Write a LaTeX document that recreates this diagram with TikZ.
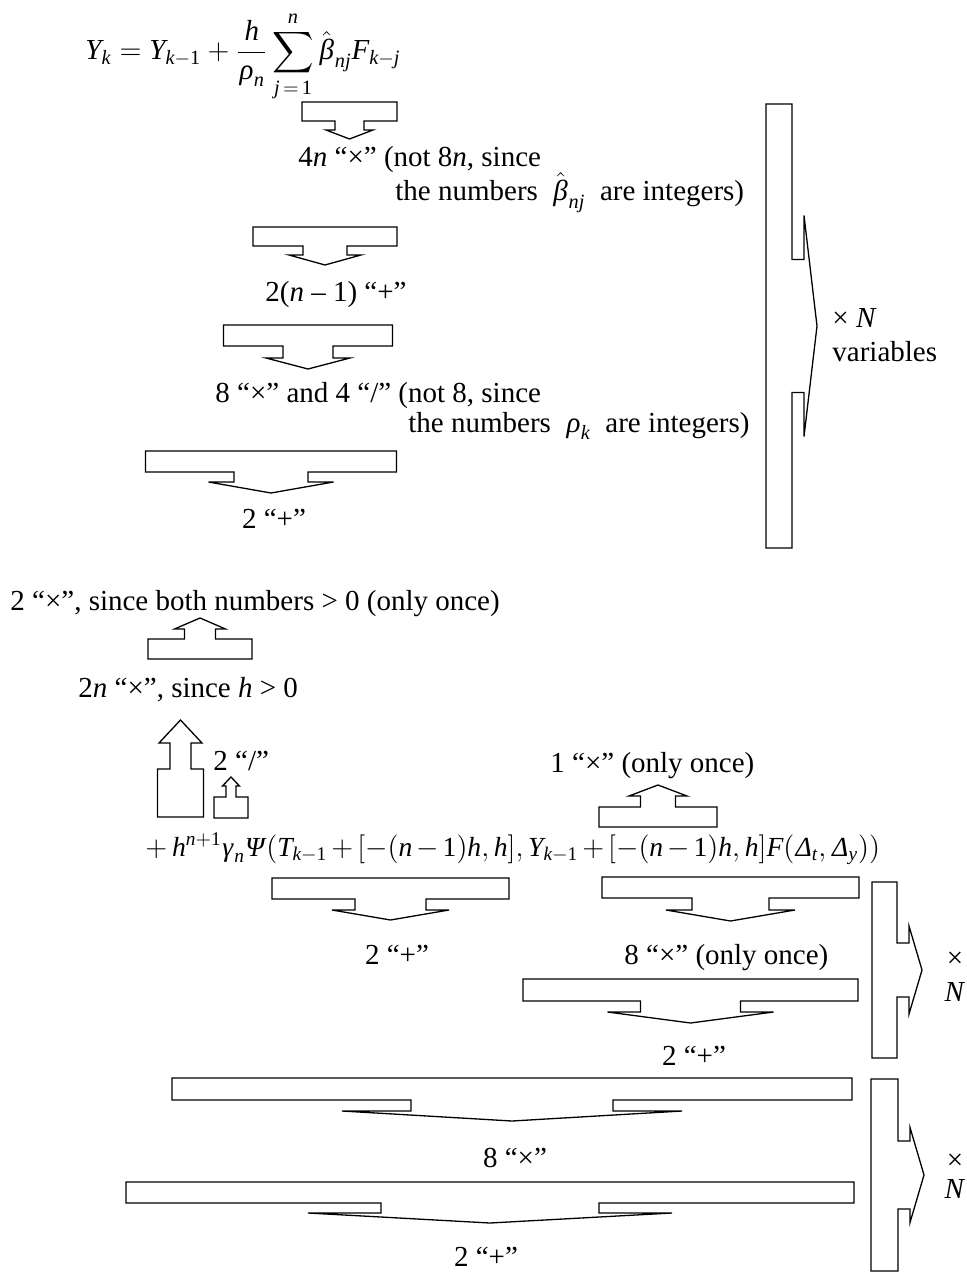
\documentclass[tikz,border=0pt]{standalone}
\usepackage{amsmath}
\usepackage{mathspec}
\usepackage{tikz}
\setmainfont{Liberation Serif}
\setmathsfont(Digits,Latin)[Scale=MatchLowercase]{Liberation Serif}
\setmathsfont(Greek)[Uppercase=Italic,Lowercase=Italic]{Liberation Serif}

% block arrow: wide bar, short stem, flat head
% #1 centre, #2 far edge, #3 near edge, #4 half bar, #5 half stem, #6 stem end, #7 half head, #8 tip
\newcommand{\vblock}[8]{%
  \draw[blockarr] ({#1-#4},#2) -- ({#1+#4},#2) -- ({#1+#4},#3) -- ({#1+#5},#3)
    -- ({#1+#5},#6) -- ({#1+#7},#6) -- (#1,#8) -- ({#1-#7},#6) -- ({#1-#5},#6)
    -- ({#1-#5},#3) -- ({#1-#4},#3) -- cycle;}
\newcommand{\hblock}[8]{%
  \draw[blockarr] (#2,{#1-#4}) -- (#2,{#1+#4}) -- (#3,{#1+#4}) -- (#3,{#1+#5})
    -- (#6,{#1+#5}) -- (#6,{#1+#7}) -- (#8,#1) -- (#6,{#1-#7}) -- (#6,{#1-#5})
    -- (#3,{#1-#5}) -- (#3,{#1-#4}) -- cycle;}

\begin{document}
\begin{tikzpicture}[
    x=0.5pt, y=-0.5pt,
    blockarr/.style={draw, line width=0.65pt},
    lbl/.style={anchor=base west, inner sep=0pt},
    clbl/.style={anchor=base, inner sep=0pt},
    every node/.style={font=\fontsize{14.5}{17}\selectfont}
]
\useasboundingbox (0,0) rectangle (967,1272);

% upper part: one step of the method
\node[lbl] (eqY) at (85,60) {$\displaystyle Y_k = Y_{k-1} + \frac{h}{\rho_n}\sum_{j\,=\,1}^{n}\hat{\beta}_{nj}F_{k-j}$};
\vblock{349.5}{102}{121}{47.5}{14.5}{130}{23.5}{139}
\node[lbl] (mulA) at (298,167) {4\textit{n} “×” (not 8\textit{n}, since};
\node[lbl] (mulB) at (395,201) {the numbers \ $\hat{\beta}_{nj}$ \ are integers)};
\vblock{325}{227}{246}{72}{22}{255}{36}{265}
\node[lbl] (addA) at (265,302) {2(\textit{n} – 1) “+”};
\vblock{308}{325}{346}{84.5}{25}{358}{42}{369}
\node[lbl] (mulC) at (215,402) {8 “×” and 4 “/” (not 8, since};
\node[lbl] (mulD) at (408,432) {the numbers \ $\rho_k$ \ are integers)};
\vblock{271}{451}{472}{125.5}{37}{482}{62.5}{493}
\node[clbl] (addB) at (274,528) {2 “+”};

\hblock{326}{766}{792}{222}{66.5}{804}{110.5}{817}
\node[lbl] (timesN) at (832,328) {× \textit{N}};
\node[lbl] (vars) at (832,362) {variables};

% lower part: remainder term
\node[lbl] (mulE) at (10,610) {2 “×”, since both numbers > 0 (only once)};
\vblock{200}{659}{639}{52}{15.5}{629}{25.5}{618}
\node[lbl] (mulF) at (78,697) {2\textit{n} “×”, since \textit{h} > 0};
\vblock{180.5}{817}{769}{23}{10.5}{743}{21.5}{720}
\node[lbl] (divA) at (213,770) {2 “/”};
\vblock{231}{818}{797}{17}{5}{786}{8.5}{777}
\node[lbl] (mulG) at (550,772) {1 “×” (only once)};
\vblock{658}{827}{807}{59}{17.5}{796}{29}{785}

\node[lbl, font=\fontsize{13.8}{17}\selectfont] (eqPsi) at (145,856) {\medmuskip=2.5mu $+\,h^{n+1}\gamma_n\Psi(T_{k-1} + [-(n-1)h, h], Y_{k-1} + [-(n-1)h, h]F(\Delta_t, \Delta_y))$};

\vblock{390.5}{878}{899}{118.5}{35.5}{910}{58.5}{920}
\node[clbl] (addC) at (397,964) {2 “+”};
\vblock{730.5}{877}{898}{128.5}{38.5}{910}{64.5}{921}
\node[lbl] (mulH) at (624,964) {8 “×” (only once)};
\vblock{690.5}{979}{1001}{167.5}{50}{1012}{83}{1023}
\node[clbl] (addD) at (694,1065) {2 “+”};
\hblock{970}{872}{897}{88}{27}{909}{44}{922}
\node[clbl] (timesNa) at (955,967) {×};
\node[clbl] (Na) at (955,1001) {\textit{N}};

\vblock{512}{1078}{1100}{340}{101}{1111}{170}{1121}
\node[clbl] (mulI) at (515,1167) {8 “×”};
\vblock{490}{1182}{1203}{364}{109}{1213}{182}{1223}
\node[clbl] (addE) at (486,1266) {2 “+”};
\hblock{1175}{871}{898}{96}{34}{910}{47.5}{924}
\node[clbl] (timesNb) at (955,1169) {×};
\node[clbl] (Nb) at (955,1198) {\textit{N}};

\end{tikzpicture}
\end{document}
